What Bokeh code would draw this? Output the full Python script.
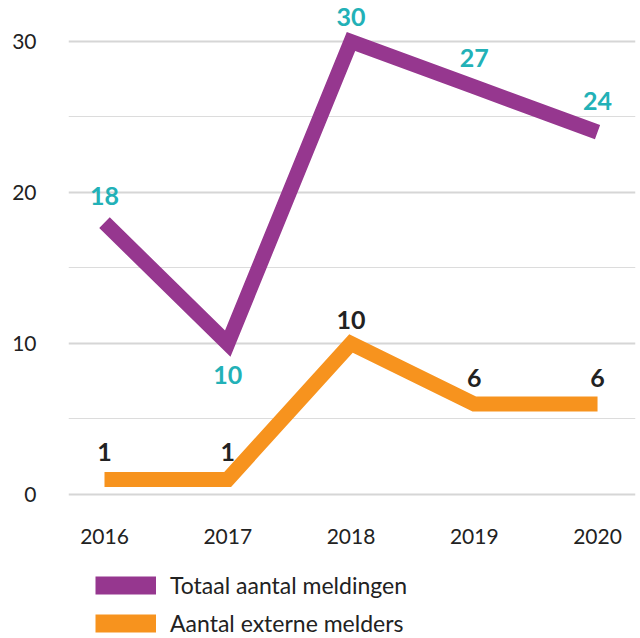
from bokeh.plotting import figure
from bokeh.layouts import column
from bokeh.models import FixedTicker, Legend, LegendItem, Range1d, ColumnDataSource
from bokeh.core.properties import value
from bokeh.embed import file_html
from bokeh.resources import INLINE

years = [2016, 2017, 2018, 2019, 2020]
totaal = [18, 10, 30, 27, 24]
extern = [1, 1, 10, 6, 6]
series_names = ["Totaal aantal meldingen", "Aantal externe melders"]
y_ticks = [0, 10, 20, 30]
y_minor = [5, 15, 25]

# label placement (style)
totaal_offsets = [-27, 32, -24, -29, -31]
extern_offsets = [-27, -27, -23, -26, -26]

PURPLE = "#96378F"
ORANGE = "#F7931E"
TEAL = "#22B1B7"
DARK = "#222222"
FONT = "Lato"

p = figure(width=640, height=560, output_backend="svg", toolbar_location=None,
           x_range=Range1d(2015.708, 2020.308), y_range=Range1d(-0.7285, 32.715),
           min_border_left=68, min_border_right=5, min_border_top=0,
           min_border_bottom=55)
p.outline_line_color = None
p.background_fill_color = "white"
p.border_fill_color = "white"

# grid
p.xgrid.visible = False
p.ygrid.ticker = FixedTicker(ticks=y_ticks, minor_ticks=y_minor)
p.ygrid.grid_line_color = "#d6d6d6"
p.ygrid.grid_line_width = 2
p.ygrid.minor_grid_line_color = "#dcdcdc"
p.ygrid.minor_grid_line_width = 1

# axes
p.yaxis.ticker = FixedTicker(ticks=y_ticks)
p.xaxis.ticker = FixedTicker(ticks=years)
for ax in (p.xaxis[0], p.yaxis[0]):
    ax.axis_line_color = None
    ax.major_tick_line_color = None
    ax.minor_tick_line_color = None
    ax.major_label_text_font = FONT
    ax.major_label_text_font_size = "21px"
    ax.major_label_text_color = DARK
p.yaxis.major_label_standoff = 26
p.xaxis.major_label_standoff = 17

src = ColumnDataSource(dict(x=years, t=totaal, e=extern,
                            tl=[str(v) for v in totaal], el=[str(v) for v in extern],
                            to=totaal_offsets, eo=extern_offsets))

p.line("x", "e", source=src, line_color=ORANGE, line_width=15,
       line_join="miter", line_cap="butt")
p.line("x", "t", source=src, line_color=PURPLE, line_width=15,
       line_join="miter", line_cap="butt")

p.text("x", "t", text="tl", source=src, y_offset="to", text_align="center",
       text_baseline="middle", text_font=value(FONT), text_font_style="bold",
       text_font_size="25px", text_color=TEAL)
p.text("x", "e", text="el", source=src, y_offset="eo", text_align="center",
       text_baseline="middle", text_font=value(FONT), text_font_style="bold",
       text_font_size="25px", text_color=DARK)

# legend panel
q = figure(width=640, height=78, output_backend="svg", toolbar_location=None,
           x_range=Range1d(0, 1), y_range=Range1d(0, 1),
           min_border_left=0, min_border_right=0, min_border_top=0,
           min_border_bottom=0)
q.axis.visible = False
q.grid.visible = False
q.outline_line_color = None
q.border_fill_color = "white"
q.background_fill_color = "white"
# swatch renderers (kept outside the visible range; only shown in the legend)
r1 = q.line(x=[5, 6], y=[5, 6], line_color=PURPLE, line_width=18, line_cap="butt")
r2 = q.line(x=[5, 6], y=[5, 6], line_color=ORANGE, line_width=18, line_cap="butt")
legend = Legend(items=[LegendItem(label=series_names[0], renderers=[r1]),
                       LegendItem(label=series_names[1], renderers=[r2])],
                location=(27, 1), orientation="vertical",
                glyph_width=61, glyph_height=20, label_height=20, spacing=10,
                label_standoff=14, margin=0, padding=0,
                label_text_font=FONT, label_text_font_size="23px",
                label_text_color=DARK, background_fill_alpha=0,
                border_line_color=None)
q.add_layout(legend, "center")

layout = column(p, q, spacing=0)
open("out.html", "w").write(file_html(layout, INLINE))
